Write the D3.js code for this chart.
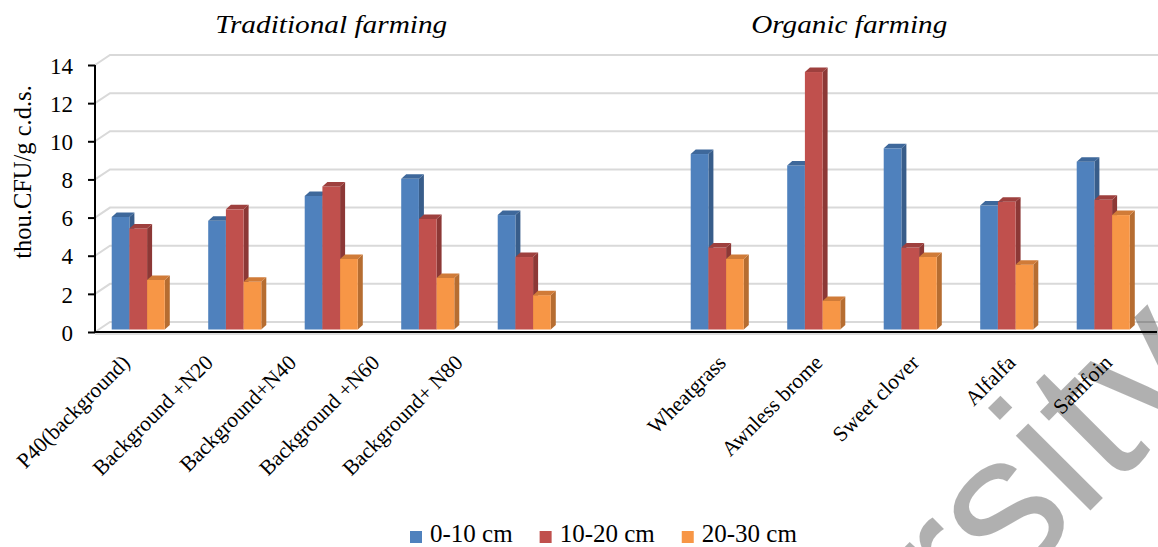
<!DOCTYPE html>
<html>
<head>
<meta charset="utf-8">
<script src="https://cdn.jsdelivr.net/npm/d3@7/dist/d3.min.js"></script>
<style>
  html, body { margin: 0; padding: 0; background: #fff; }
  svg { display: block; }
  text { font-family: "Liberation Serif", "Times New Roman", serif; fill: #000; }
  text.wm { font-family: "Liberation Sans", Arial, sans-serif; }
</style>
</head>
<body>
<svg id="chart" width="1158" height="547"></svg>
<script>
// Soil microorganism counts (thou. CFU per g of dry soil) by depth layer
const traditional = ["P40(background)", "Background +N20", "Background+N40", "Background +N60", "Background+ N80"];
const organic = ["Wheatgrass", "Awnless brome", "Sweet clover", "Alfalfa", "Sainfoin"];
const gapKey = "__gap__";
const categories = [...traditional, gapKey, ...organic];

const seriesNames = ["0-10 cm", "10-20 cm", "20-30 cm"];
const depth0_10  = [5.9, 5.7, 7.0, 7.9, 6.0, null, 9.2, 8.6, 9.5, 6.5, 8.8];
const depth10_20 = [5.3, 6.3, 7.5, 5.8, 3.8, null, 4.3, 13.5, 4.3, 6.7, 6.8];
const depth20_30 = [2.6, 2.5, 3.7, 2.7, 1.8, null, 3.7, 1.5, 3.8, 3.4, 6.0];
const seriesValues = [depth0_10, depth10_20, depth20_30];

const yTicks = [0, 2, 4, 6, 8, 10, 12, 14];
const groupTitles = ["Traditional farming", "Organic farming"];

// palette: front, side, top
const colors = [
  { front: "#4F81BD", side: "#385D8A", top: "#3E689B" },
  { front: "#C0504D", side: "#8C3836", top: "#9E403E" },
  { front: "#F79646", side: "#B66D31", top: "#D07B38" }
];

const svg = d3.select("#chart");

// 3D offsets
const wallDx = 15, wallDy = -10;   // back wall relative to front plane
const barDx = 5, barDy = -4.5;     // depth of each column

const axisX = 95;
const yAxis = d3.scaleLinear().domain([0, 14]).range([332, 65]);
const yBar = d3.scaleLinear().domain([0, 14]).range([329.5, 62.5]);

const x = d3.scaleBand().domain(categories).range([90, 1151.5])
  .paddingInner(0.45).paddingOuter(0.225);
const xs = d3.scaleBand().domain(seriesNames).range([0, x.bandwidth()]);

// gridlines on side wall + back wall
const grid = svg.append("g").attr("stroke", "#D9D9D9").attr("stroke-width", 2).attr("fill", "none");
yTicks.forEach(t => {
  const y0 = yAxis(t);
  grid.append("path")
    .attr("d", `M${axisX},${y0}L${axisX + wallDx},${y0 + wallDy}L1158,${y0 + wallDy}`);
});

// columns
const bars = svg.append("g");
categories.forEach((cat, ci) => {
  if (cat === gapKey) return;
  seriesNames.forEach((s, si) => {
    const v = seriesValues[si][ci];
    const bx = x(cat) + xs(s), w = xs.bandwidth();
    const yt = yBar(v), yb = yBar(0);
    const c = colors[si];
    bars.append("path")
      .attr("d", `M${bx + w},${yt}L${bx + w + barDx},${yt + barDy}L${bx + w + barDx},${yb + barDy}L${bx + w},${yb}Z`)
      .attr("fill", c.side);
    bars.append("rect")
      .attr("x", bx).attr("y", yt).attr("width", w).attr("height", yb - yt)
      .attr("fill", c.front);
    bars.append("path")
      .attr("d", `M${bx},${yt}L${bx + barDx},${yt + barDy}L${bx + w + barDx},${yt + barDy}L${bx + w},${yt}Z`)
      .attr("fill", c.top);
  });
});

// axes
svg.append("line").attr("x1", axisX).attr("x2", axisX).attr("y1", yAxis(14)).attr("y2", yAxis(0) + 1)
  .attr("stroke", "#000").attr("stroke-width", 2);
svg.append("line").attr("x1", axisX - 1).attr("x2", 1157).attr("y1", yAxis(0)).attr("y2", yAxis(0))
  .attr("stroke", "#000").attr("stroke-width", 2);
svg.append("line").attr("x1", axisX).attr("x2", 1157).attr("y1", yAxis(0) + 2).attr("y2", yAxis(0) + 2)
  .attr("stroke", "#BBBBBB").attr("stroke-width", 1);

const yAx = svg.append("g").attr("transform", `translate(${axisX},0)`)
  .call(d3.axisLeft(yAxis).tickValues(yTicks).tickSize(7).tickPadding(15).tickFormat(d3.format("d")));
yAx.select(".domain").remove();
yAx.selectAll(".tick line").attr("stroke", "#000").attr("stroke-width", 2);
yAx.selectAll(".tick text").attr("font-size", 23).attr("fill", "#000").attr("dy", "0.36em");

// y axis title
svg.append("text")
  .attr("transform", "translate(31,172) rotate(-90)")
  .attr("text-anchor", "middle")
  .attr("font-size", 24.5)
  .text("thou.CFU/g c.d.s.");

// category labels
const tradLabelX = d3.scalePoint().domain(traditional).range([131, 464]);
const labelX = cat => traditional.includes(cat) ? tradLabelX(cat) : x(cat) + x.bandwidth() / 2 + 10;
svg.append("g").selectAll("text")
  .data(categories.filter(c => c !== gapKey))
  .join("text")
  .attr("transform", d => `translate(${labelX(d)},364) rotate(-45)`)
  .attr("text-anchor", "end")
  .attr("font-size", 21.5)
  .text(d => d);

// group titles
const titleCenter = [
  (x(traditional[0]) + x(traditional[4]) + x.bandwidth()) / 2,
  (x(organic[0]) + x(organic[4]) + x.bandwidth()) / 2 - 61
];
const titleWidths = [232, 196];
groupTitles.forEach((t, i) => {
  svg.append("text")
    .attr("x", titleCenter[i]).attr("y", 33)
    .attr("text-anchor", "middle")
    .attr("font-style", "italic")
    .attr("font-size", 25)
    .attr("textLength", titleWidths[i])
    .attr("lengthAdjust", "spacingAndGlyphs")
    .text(t);
});

// legend: swatch, label, then next item after the label's width
const legend = svg.append("g").attr("transform", "translate(410,531)");
let lx = 0;
seriesNames.forEach((s, i) => {
  const g = legend.append("g").attr("transform", `translate(${lx},0)`);
  g.append("rect").attr("width", 12).attr("height", 12).attr("fill", colors[i].front);
  const t = g.append("text").attr("x", 20).attr("y", 11).attr("font-size", 25).text(s);
  lx += 20 + t.node().getComputedTextLength() + 27;
});

// watermark
const wm = svg.append("g").attr("transform", "translate(1081,520) rotate(-45)");
const wmText = wm.append("text")
  .attr("class", "wm")
  .attr("font-size", 200)
  .style("fill", "#000").attr("fill-opacity", 0.31)
  .text("University");
wmText.attr("x", -wmText.node().getSubStringLength(0, 7));
</script>
</body>
</html>
